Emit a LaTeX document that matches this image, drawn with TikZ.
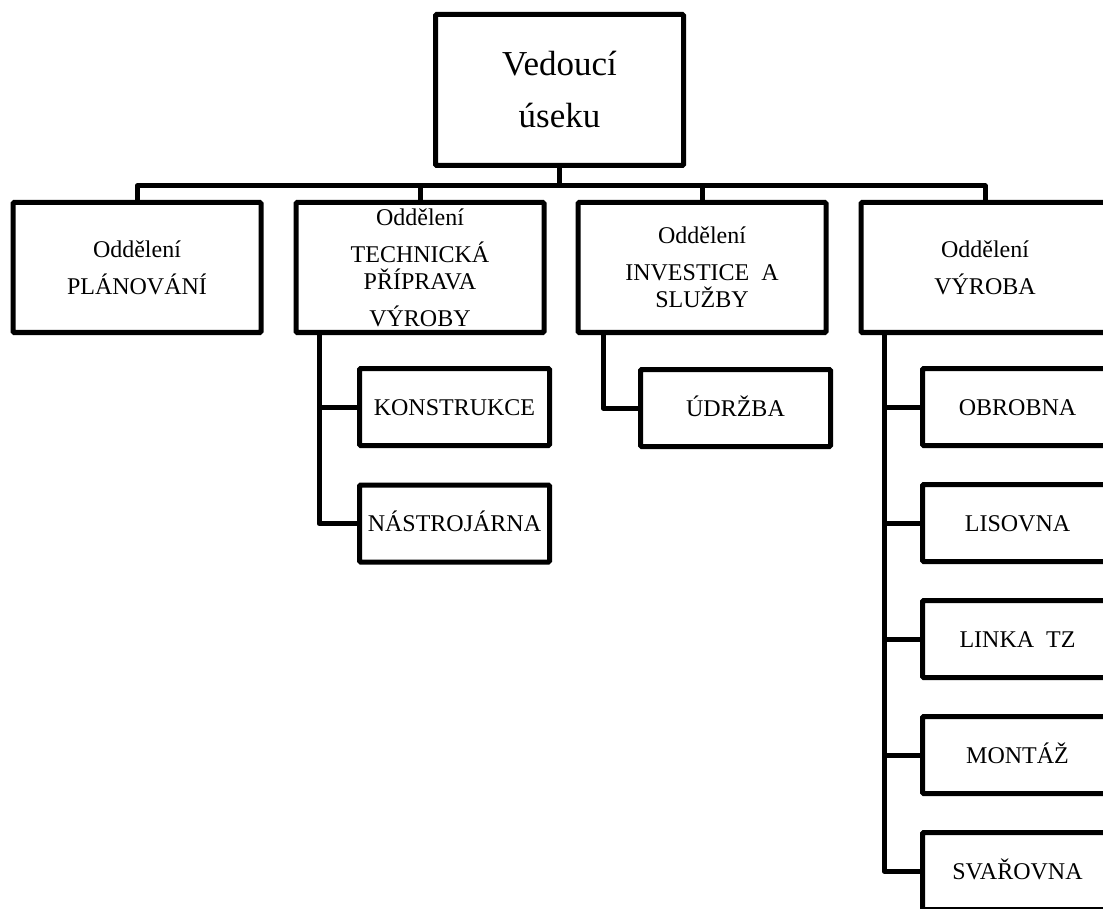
\documentclass[tikz,border=0pt]{standalone}
\usepackage{fontspec}
\setmainfont{Liberation Serif}
\begin{document}
\begin{tikzpicture}[x=1pt,y=-1pt,
  box/.style={draw=black, line width=5pt, rounded corners=1.2pt, fill=white, inner sep=0pt,
              align=center, font=\fontsize{24}{37}\selectfont},
  topbox/.style={box, minimum width=248, minimum height=151, font=\fontsize{35}{52}\selectfont},
  deptbox/.style={box, minimum width=248, minimum height=130},
  subbox/.style={box, minimum width=190, minimum height=77, text height=16pt, text depth=0pt},
  conn/.style={line width=5pt, line join=round}]
\clip (0,0) rectangle (1103,909);
\fill[white] (0,0) rectangle (1103,909);

\node[topbox] (top) at (559.5,90) {Vedoucí\\úseku};

\node[deptbox] (b1) at (137,267.5) {Oddělení\\PLÁNOVÁNÍ};
\node[deptbox] (b2) at (420,267.5) {Oddělení\\TECHNICKÁ\\[-10pt]PŘÍPRAVA\\VÝROBY};
\node[deptbox] (b3) at (702,267.5) {Oddělení\\INVESTICE\ \ A\\[-10pt]SLUŽBY};
\node[deptbox] (b4) at (985,267.5) {Oddělení\\VÝROBA};

\node[subbox] (k1) at (454.5,407) {KONSTRUKCE};
\node[subbox] (k2) at (454.5,523.5) {NÁSTROJÁRNA};

\node[subbox] (u1) at (735.5,408) {ÚDRŽBA};

\node[subbox] (v1) at (1017.5,407) {OBROBNA};
\node[subbox] (v2) at (1017.5,523) {LISOVNA};
\node[subbox] (v3) at (1017.5,639) {LINKA\ \ TZ};
\node[subbox] (v4) at (1017.5,755) {MONTÁŽ};
\node[subbox] (v5) at (1017.5,871) {SVAŘOVNA};

\coordinate (bus) at (0,186);

% top level connectors
\draw[conn] (top.south) -- (top.south |- bus);
\draw[conn] (b1.north) -- (b1.north |- bus) -- (b4.north |- bus) -- (b4.north);
\draw[conn] (b2.north) -- (b2.north |- bus);
\draw[conn] (b3.north) -- (b3.north |- bus);

% sub connectors
\coordinate (s2) at ([xshift=-101pt]b2.south);
\coordinate (s3) at ([xshift=-99pt]b3.south);
\coordinate (s4) at ([xshift=-101pt]b4.south);
\draw[conn] (s2) |- (k1.west);
\draw[conn] (s2) |- (k2.west);
\draw[conn] (s3) |- (u1.west);
\draw[conn] (s4) |- (v1.west);
\draw[conn] (s4) |- (v2.west);
\draw[conn] (s4) |- (v3.west);
\draw[conn] (s4) |- (v4.west);
\draw[conn] (s4) |- (v5.west);
\end{tikzpicture}
\end{document}
